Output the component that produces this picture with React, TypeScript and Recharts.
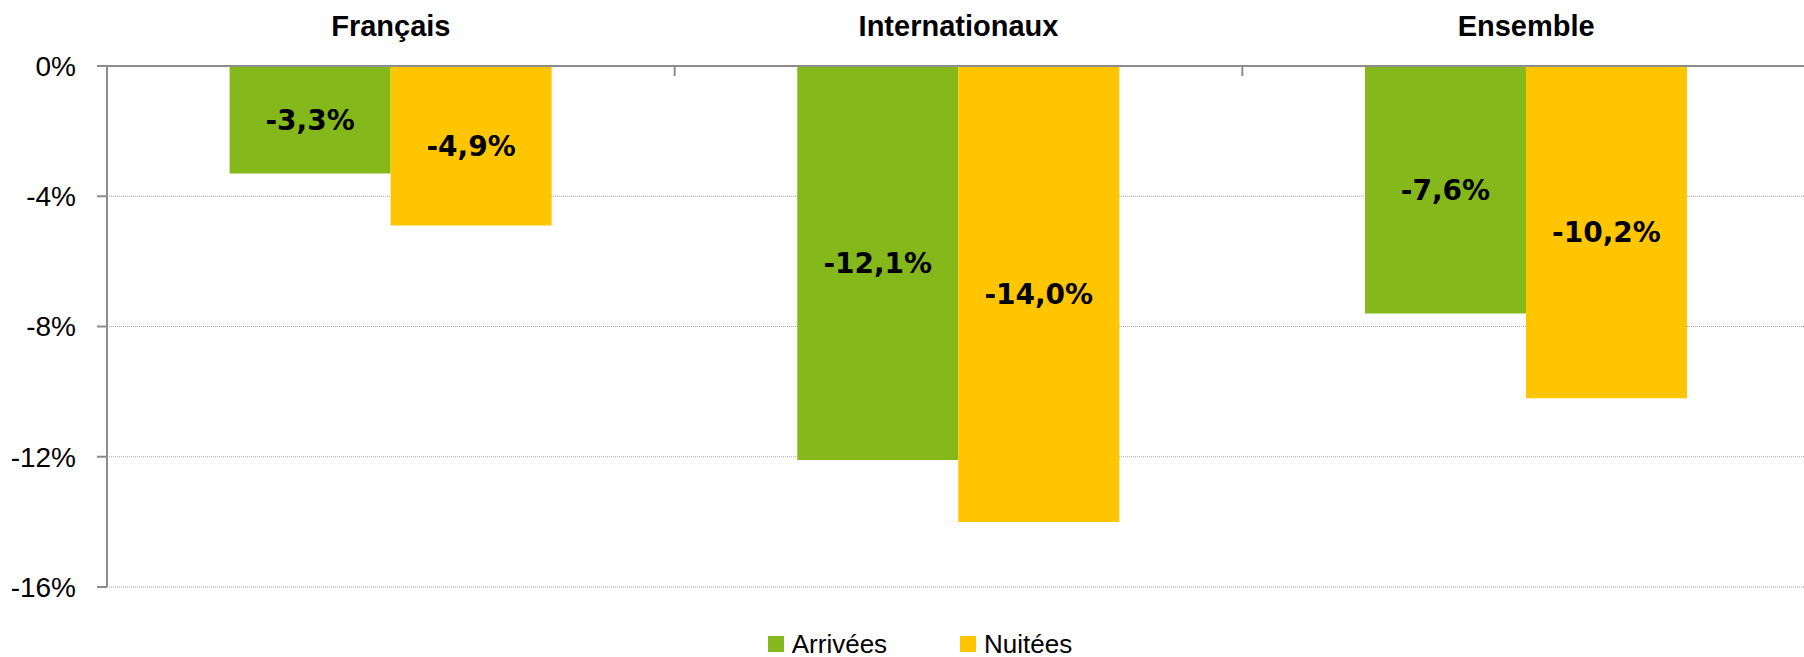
import { BarChart, Bar, XAxis, YAxis, CartesianGrid, Legend, LabelList } from "recharts";

const categories = ["Français", "Internationaux", "Ensemble"];
const arrivees = [-3.3, -12.1, -7.6];
const nuitees = [-4.9, -14.0, -10.2];
const yTicks = [0, -4, -8, -12, -16];

const data = categories.map((name, i) => ({ name, arrivees: arrivees[i], nuitees: nuitees[i] }));

const GREEN = "#85B81A";
const YELLOW = "#FFC600";
const AXIS = "#8c8c8c";

const W = 1804;
const H = 657;
const LEFT = 107;
const RIGHT = -6;
const band = (W - LEFT - RIGHT) / categories.length;

const fmt = (v: number) => `${v.toFixed(1).replace(".", ",")}%`;

function CategoryTick(props: any) {
  const { x, y, payload, index } = props;
  return (
    <g>
      <text
        x={x}
        y={y - 30}
        textAnchor="middle"
        fontFamily="Liberation Sans, Arial, sans-serif"
        fontWeight="bold"
        fontSize={29}
        fill="#000"
      >
        {payload.value}
      </text>
      {index > 0 && (
        <line x1={x - band / 2} x2={x - band / 2} y1={y} y2={y + 10} stroke={AXIS} strokeWidth={2} />
      )}
    </g>
  );
}

function LegendBox() {
  const items = [
    { label: "Arrivées", color: GREEN },
    { label: "Nuitées", color: YELLOW },
  ];
  return (
    <div
      style={{
        height: 70,
        display: "flex",
        justifyContent: "center",
        alignItems: "flex-start",
        paddingLeft: 30,
        paddingTop: 45,
        boxSizing: "border-box",
        fontFamily: "Liberation Sans, Arial, sans-serif",
        fontSize: 26,
        lineHeight: "24px",
        color: "#000",
      }}
    >
      {items.map((it, i) => (
        <div key={it.label} style={{ display: "flex", alignItems: "center", marginLeft: i ? 73 : 0 }}>
          <span style={{ width: 16, height: 16, background: it.color, display: "inline-block", marginRight: 8 }} />
          <span>{it.label}</span>
        </div>
      ))}
    </div>
  );
}

export default function App() {
  return (
    <div style={{ position: "absolute", left: 0, top: 0, background: "#fff" }}>
      <BarChart
        width={W}
        height={H}
        data={data}
        margin={{ top: 0, right: RIGHT, left: 0, bottom: 0 }}
        barCategoryGap="21.6%"
        barGap={0}
      >
        <CartesianGrid vertical={false} stroke="#a6a6a6" strokeDasharray="1 1" />
        <XAxis
          dataKey="name"
          orientation="top"
          height={66}
          tickSize={0}
          tickMargin={0}
          tickLine={false}
          axisLine={{ stroke: AXIS, strokeWidth: 2 }}
          tick={<CategoryTick />}
          interval={0}
        />
        <YAxis
          width={LEFT}
          domain={[-16, 0]}
          ticks={yTicks}
          tickFormatter={(v: number) => `${v}%`}
          tickSize={10}
          tickMargin={21}
          axisLine={{ stroke: AXIS, strokeWidth: 2 }}
          tickLine={{ stroke: AXIS, strokeWidth: 2 }}
          tick={{ fill: "#000", fontSize: 28, fontFamily: "Liberation Sans, Arial, sans-serif" }}
        />
        <Legend verticalAlign="bottom" height={70} content={() => <LegendBox />} />
        <Bar dataKey="arrivees" name="Arrivées" fill={GREEN} isAnimationActive={false}>
          <LabelList
            dataKey="arrivees"
            position="center"
            formatter={(v: any) => fmt(Number(v))}
            fill="#000"
            fontSize={28}
            fontWeight="bold"
            fontFamily="DejaVu Sans, sans-serif"
          />
        </Bar>
        <Bar dataKey="nuitees" name="Nuitées" fill={YELLOW} isAnimationActive={false}>
          <LabelList
            dataKey="nuitees"
            position="center"
            formatter={(v: any) => fmt(Number(v))}
            fill="#000"
            fontSize={28}
            fontWeight="bold"
            fontFamily="DejaVu Sans, sans-serif"
          />
        </Bar>
      </BarChart>
    </div>
  );
}
